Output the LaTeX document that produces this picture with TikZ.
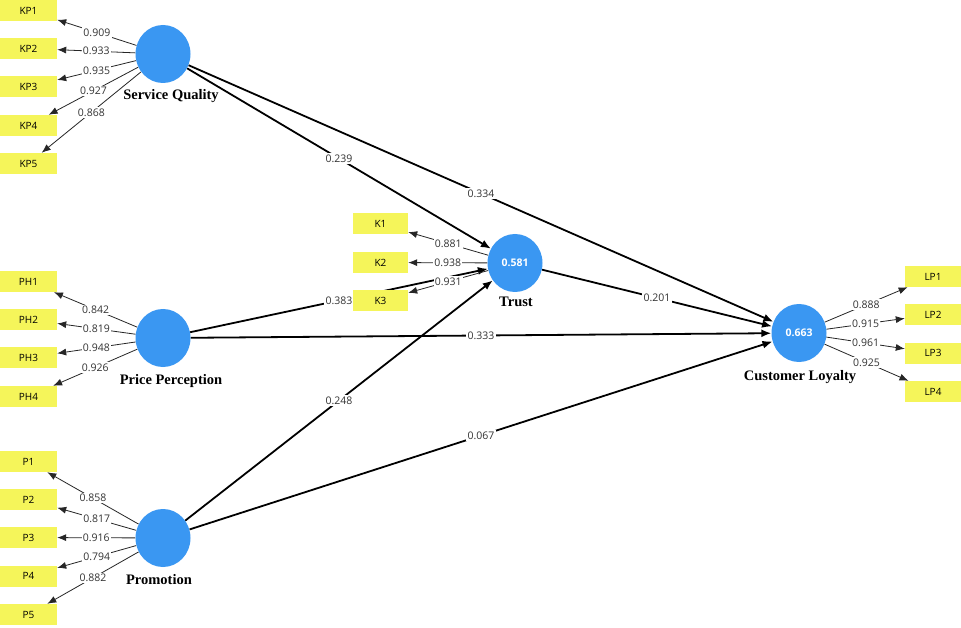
\documentclass[tikz,border=0pt]{standalone}
\usepackage{fontspec}
\setmainfont{Liberation Serif}
\newfontfamily\numfont{Open Sans}
\usetikzlibrary{arrows.meta,shapes.geometric,backgrounds}
\definecolor{lvblue}{HTML}{3A97F2}
\definecolor{indyellow}{HTML}{F5F55A}
\definecolor{numgray}{HTML}{333333}
\tikzset{
  lv/.style={ellipse, fill=lvblue, minimum width=55pt, minimum height=58pt, inner sep=0pt,
    font=\numfont\bfseries\fontsize{10.5}{12}\selectfont, text=white},
  indbox/.style={rectangle, fill=indyellow, minimum width=57pt, minimum height=21pt, inner sep=0pt,
    font=\numfont\fontsize{10}{12}\selectfont, text=black},
  lvname/.style={font=\bfseries\fontsize{14.5}{16}\selectfont, inner sep=0pt},
  coef/.style={fill=white, inner sep=1.3pt, font=\numfont\fontsize{10.5}{12}\selectfont, text=numgray},
  sarrow/.style={line width=1.8pt, black, -{Latex[length=10pt,width=8pt]}},
  iarrow/.style={line width=0.8pt, black!85, -{Latex[length=9pt,width=7pt]}}
}
\begin{document}
\begin{tikzpicture}[x=1pt,y=-1pt]
\useasboundingbox (0,0) rectangle (961,628);
% latent variables
\node[lv] (SQ) at (163,54) {};
\node[lv] (PP) at (163,338) {};
\node[lv] (PR) at (163,538) {};
\node[lv] (TR) at (515,263) {0.581};
\node[lv] (CL) at (799,333) {0.663};
% names
\node[lvname] (SQn) at (171,96) {Service Quality};
\node[lvname] (PPn) at (171,381) {Price Perception};
\node[lvname] (PRn) at (159,580) {Promotion};
\node[lvname] (TRn) at (516,302) {Trust};
\node[lvname] (CLn) at (800,377) {Customer Loyalty};
% indicators
\node[indbox] (KP1) at (28.5,10.5) {KP1};
\node[indbox] (KP2) at (28.5,48.5) {KP2};
\node[indbox] (KP3) at (28.5,87) {KP3};
\node[indbox] (KP4) at (28.5,125.5) {KP4};
\node[indbox] (KP5) at (28.5,163.5) {KP5};
\node[indbox] (PH1) at (28.5,281.5) {PH1};
\node[indbox] (PH2) at (28.5,319.5) {PH2};
\node[indbox] (PH3) at (28.5,357.5) {PH3};
\node[indbox] (PH4) at (28.5,396.5) {PH4};
\node[indbox] (P1) at (28.5,461.5) {P1};
\node[indbox] (P2) at (28.5,499.5) {P2};
\node[indbox] (P3) at (28.5,537.5) {P3};
\node[indbox] (P4) at (28.5,576) {P4};
\node[indbox] (P5) at (28.5,614.5) {P5};
\node[indbox, minimum width=55pt] (K1) at (380.5,224) {K1};
\node[indbox, minimum width=55pt] (K2) at (380.5,262.5) {K2};
\node[indbox, minimum width=55pt] (K3) at (380.5,300.5) {K3};
\node[indbox, minimum width=56pt] (LP1) at (933,276.5) {LP1};
\node[indbox, minimum width=56pt] (LP2) at (933,314.5) {LP2};
\node[indbox, minimum width=56pt] (LP3) at (933,353) {LP3};
\node[indbox, minimum width=56pt] (LP4) at (933,391.5) {LP4};
\begin{scope}[on background layer]
\fill[white] (0,0) rectangle (961,628);
% structural paths
\draw[sarrow] (SQ) -- node[coef] (c1) {0.239} (TR);
\draw[sarrow] (SQ) -- node[coef] (c2) {0.334} (CL);
\draw[sarrow] (PP) -- node[coef] (c3) {0.383} (TR);
\draw[sarrow] (PP) -- node[coef] (c4) {0.333} (CL);
\draw[sarrow] (PR) -- node[coef] (c5) {0.248} (TR);
\draw[sarrow] (PR) -- node[coef] (c6) {0.067} (CL);
\draw[sarrow] (TR) -- node[coef] (c7) {0.201} (CL);
% outer loadings
\draw[iarrow] (SQ) -- node[coef] (l1) {0.909} (KP1);
\draw[iarrow] (SQ) -- node[coef] (l2) {0.933} (KP2);
\draw[iarrow] (SQ) -- node[coef] (l3) {0.935} (KP3);
\draw[iarrow] (SQ) -- node[coef] (l4) {0.927} (KP4);
\draw[iarrow] (SQ) -- node[coef] (l5) {0.868} (KP5);
\draw[iarrow] (PP) -- node[coef] (l6) {0.842} (PH1);
\draw[iarrow] (PP) -- node[coef] (l7) {0.819} (PH2);
\draw[iarrow] (PP) -- node[coef] (l8) {0.948} (PH3);
\draw[iarrow] (PP) -- node[coef] (l9) {0.926} (PH4);
\draw[iarrow] (PR) -- node[coef] (l10) {0.858} (P1);
\draw[iarrow] (PR) -- node[coef] (l11) {0.817} (P2);
\draw[iarrow] (PR) -- node[coef] (l12) {0.916} (P3);
\draw[iarrow] (PR) -- node[coef] (l13) {0.794} (P4);
\draw[iarrow] (PR) -- node[coef] (l14) {0.882} (P5);
\draw[iarrow] (TR) -- node[coef] (l15) {0.881} (K1);
\draw[iarrow] (TR) -- node[coef] (l16) {0.938} (K2);
\draw[iarrow] (TR) -- node[coef] (l17) {0.931} (K3);
\draw[iarrow] (CL) -- node[coef] (l18) {0.888} (LP1);
\draw[iarrow] (CL) -- node[coef] (l19) {0.915} (LP2);
\draw[iarrow] (CL) -- node[coef] (l20) {0.961} (LP3);
\draw[iarrow] (CL) -- node[coef] (l21) {0.925} (LP4);
\end{scope}
\end{tikzpicture}
\end{document}
